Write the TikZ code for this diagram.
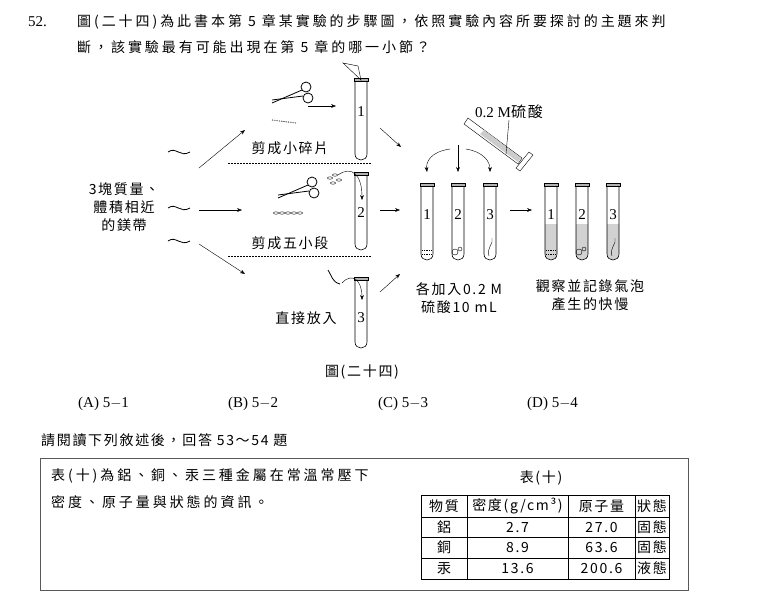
\documentclass[tikz,border=0pt]{standalone}
\usepackage{fontspec}
\setmainfont{Liberation Serif}
\newfontfamily\zh[LetterSpace=12]{Noto Sans CJK TC}
\newfontfamily\zhwide[LetterSpace=21]{Noto Sans CJK TC}
\usetikzlibrary{arrows.meta}
% test tube: x, top, bottom
\newcommand{\tube}[3]{%
  \draw[semithick] (#1-6,#2) -- (#1-6,#3-6) .. controls (#1-6,#3+2) and (#1+6,#3+2) .. (#1+6,#3-6) -- (#1+6,#2);
  \draw[fill=gray!60] (#1-7,#2-2) rectangle (#1+7,#2+1);}
\newcommand{\liquid}[3]{%
  \fill[gray!35] (#1-6,#2) -- (#1-6,#3-6) .. controls (#1-6,#3+2) and (#1+6,#3+2) .. (#1+6,#3-6) -- (#1+6,#2) -- cycle;}
\newcommand{\scissors}[2]{%
  \draw[thick] (#1+16,#2-8) circle[radius=5];
  \draw[thick] (#1+18,#2+3) circle[radius=5];
  \draw[thick] (#1+12,#2-5) -- (#1-18,#2+8);
  \draw[thick] (#1+13,#2+1) -- (#1-18,#2+5);}
\begin{document}
\begin{tikzpicture}[x=1pt,y=-1pt,
  txt/.style={font=\zh\fontsize{14}{18}\selectfont,inner sep=1pt},
  wtxt/.style={font=\zhwide\fontsize{14}{18}\selectfont,inner sep=1pt},
  num/.style={font=\fontsize{15}{17}\selectfont,inner sep=0pt},
  arr/.style={-{Stealth[length=5pt]},thin},
  sep/.style={dashed,dash pattern=on 1.5pt off 1.5pt}]
\useasboundingbox (0,0) rectangle (760,598);
% question
\node[num,anchor=west] (q) at (28,22) {52.};
\node[wtxt,anchor=west] (l1) at (76,22) {圖(二十四)為此書本第 5 章某實驗的步驟圖，依照實驗內容所要探討的主題來判};
\node[wtxt,anchor=west] (l2) at (76,47) {斷，該實驗最有可能出現在第 5 章的哪一小節？};
% magnesium strips
\node[txt,align=center] (mg) at (124,207) {3塊質量、\\體積相近\\的鎂帶};
\foreach \y in {152,208,241}{
  \draw[thick] (168,\y) .. controls (176,\y-6) and (180,\y+6) .. (190,\y);}
\coordinate (s1) at (199,168);
\coordinate (s2) at (199,210);
\coordinate (s3) at (199,244);
\coordinate (e1) at (245,130);
\coordinate (e2) at (242,210);
\coordinate (e3) at (245,274);
\draw[arr] (s1) -- (e1);
\draw[arr] (s2) -- (e2);
\draw[arr] (s3) -- (e3);
% tube 1
\tube{361}{80}{160}
\node[num] (n1) at (361,112) {1};
\draw (361,80) -- (343,63) -- (358,66) -- cycle;
\scissors{290}{95}
\draw[arr] (308,106) -- (336,106);
\draw[densely dotted,thick] (272,120) -- (296,123);
\node[txt] (cut1) at (290,148) {剪成小碎片};
\draw[sep] (228,163) -- (372,163);
% tube 2
\tube{361}{174}{250}
\node[num] (n2) at (361,213) {2};
\scissors{296}{190}
\foreach \i in {0,...,4}{\draw (276+\i*6,213) ellipse[x radius=2.5,y radius=1.2];}
\foreach \i/\j in {0/0,5/-3,9/2,3/5}{\draw (330+\i,178+\j) ellipse[x radius=2.5,y radius=1.2];}
\draw[arr] (338,175) .. controls (352,165) and (362,175) .. (362,200);
\node[txt] (cut2) at (290,243) {剪成五小段};
\draw[sep] (228,256) -- (372,256);
% tube 3
\tube{361}{279}{348}
\node[num] (n3) at (361,318) {3};
\draw[thick] (328,270) .. controls (332,276) and (332,282) .. (340,284);
\draw[arr] (342,283) .. controls (352,272) and (362,280) .. (362,300);
\node[txt] (put) at (306,318) {直接放入};
% to acid step
\draw[arr] (380,128) -- (401,147);
\draw[arr] (380,210) -- (400,210);
\draw[arr] (380,292) -- (400,274);
% pipette
\draw (468,118) -- (464,124) -- (518,164) -- (522,158) -- cycle;
\fill[gray!40] (480,134) -- (518,162) -- (521,158) -- (484,130) -- cycle;
\draw[fill=white] (516,168) -- (529,152) -- (533,155) -- (520,171) -- cycle;
\node[num,anchor=west] (acid) at (475,112) {0.2 M{\zh 硫酸}};
\draw (509,120) -- (506,154);
% drop arrows
\coordinate (d0) at (458,145);
\draw[arr] (450,149) .. controls (430,152) and (426,162) .. (427,172);
\draw[arr] (d0) -- (458,172);
\draw[arr] (466,149) .. controls (484,152) and (490,162) .. (490,172);
% left tubes
\foreach \x/\n in {427/1,458/2,490/3}{
  \tube{\x}{185}{260}
  \node[num] at (\x,215) {\n};}
\draw[densely dotted,thick] (422,250) -- (432,250) (422,254) -- (432,254);
\draw (455,252) circle[radius=3] (460,249) circle[radius=2];
\draw (489,256) .. controls (486,248) and (494,244) .. (492,238);
\draw[arr] (510,210) -- (532,210);
% right tubes
\foreach \x/\n in {551/1,582/2,613/3}{
  \liquid{\x}{224}{260}
  \tube{\x}{185}{260}
  \node[num] at (\x,215) {\n};}
\draw[densely dotted,thick] (546,250) -- (556,250) (546,254) -- (556,254);
\draw (579,252) circle[radius=3] (584,249) circle[radius=2];
\draw (612,256) .. controls (609,248) and (617,244) .. (615,238);
\node[txt,align=center] (add) at (459,298) {各加入0.2 M\\硫酸10 mL};
\node[txt,align=center] (obs) at (590,295) {觀察並記錄氣泡\\產生的快慢};
\node[txt] (cap) at (362,372) {圖(二十四)};
% options
\node[num,anchor=west] (oa) at (78,404) {(A) 5$-$1};
\node[num,anchor=west] (ob) at (228,404) {(B) 5$-$2};
\node[num,anchor=west] (oc) at (378,404) {(C) 5$-$3};
\node[num,anchor=west] (od) at (527,404) {(D) 5$-$4};
\node[txt,anchor=west] (read) at (40,440) {請閱讀下列敘述後，回答 53～54 題};
% box
\draw[gray!70!black] (40,458) rectangle (688,590);
\node[wtxt,anchor=west] (b1) at (50,476) {表(十)為鋁、銅、汞三種金屬在常溫常壓下};
\node[wtxt,anchor=west] (b2) at (50,502) {密度、原子量與狀態的資訊。};
\node[txt] (tt) at (541,478) {表(十)};
% table
\draw (421,495) rectangle (669,579);
\foreach \y in {517,537,558}{\draw (421,\y) -- (669,\y);}
\foreach \x in {467,568,635}{\draw (\x,495) -- (\x,579);}
\foreach \ca/\cb/\cc/\cd/\y in {物質/{密度(g/cm³)}/原子量/狀態/506,鋁/2.7/27.0/固態/527,銅/8.9/63.6/固態/547.5,汞/13.6/200.6/液態/568.5}{
  \node[txt] at (444,\y) {\ca};
  \node[txt] at (517.5,\y) {\cb};
  \node[txt] at (601.5,\y) {\cc};
  \node[txt] at (652,\y) {\cd};}
\end{tikzpicture}
\end{document}
